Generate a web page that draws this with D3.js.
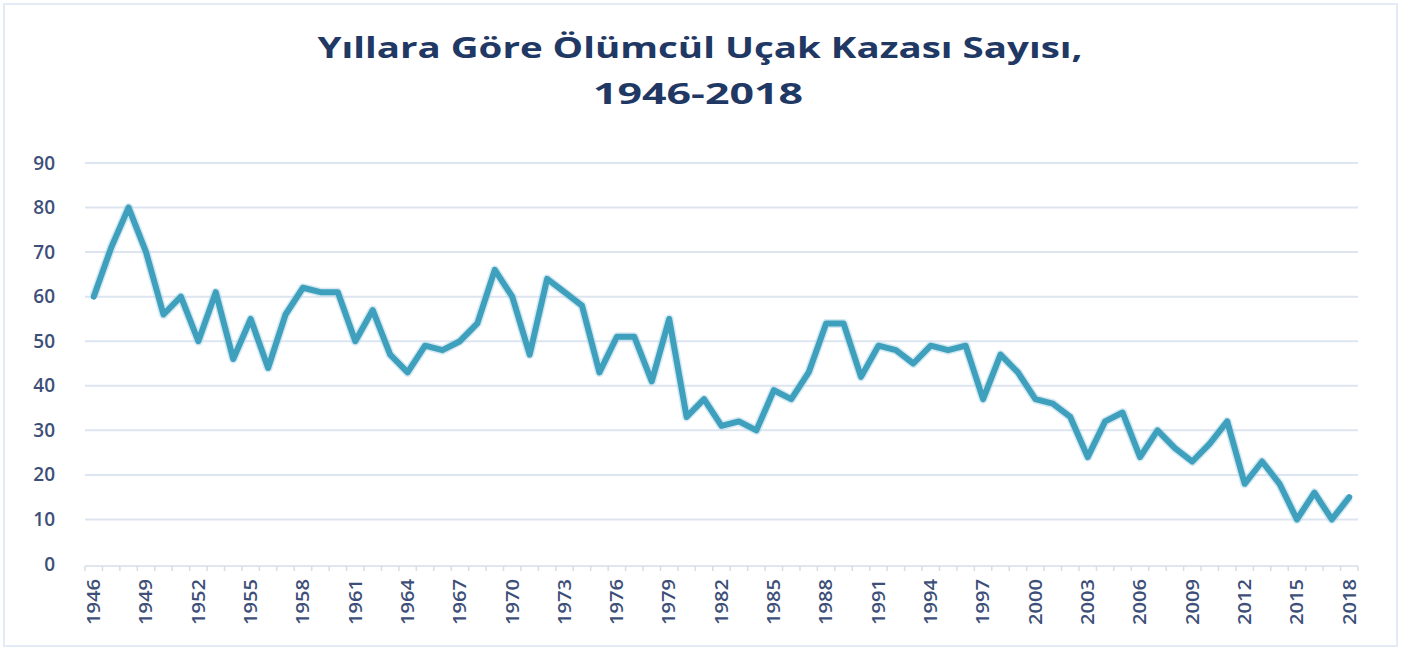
<!DOCTYPE html>
<html>
<head>
<meta charset="utf-8">
<script src="https://cdn.jsdelivr.net/npm/d3@7"></script>
<style>
  html, body { margin: 0; padding: 0; background: #ffffff; }
  svg { display: block; }
</style>
</head>
<body>
<svg id="chart" width="1403" height="648"></svg>
<script>
const titleLines = ["Yıllara Göre Ölümcül Uçak Kazası Sayısı,", "1946-2018"];
const years = d3.range(1946, 2019).map(String);
const accidents = [
  60, 71, 80, 70, 56, 60, 50, 61, 46, 55,
  44, 56, 62, 61, 61, 50, 57, 47, 43, 49,
  48, 50, 54, 66, 60, 47, 64, 61, 58, 43,
  51, 51, 41, 55, 33, 37, 31, 32, 30, 39,
  37, 43, 54, 54, 42, 49, 48, 45, 49, 48,
  49, 37, 47, 43, 37, 36, 33, 24, 32, 34,
  24, 30, 26, 23, 27, 32, 18, 23, 18, 10,
  16, 10, 15
];
const yTicks = [0, 10, 20, 30, 40, 50, 60, 70, 80, 90];
const xLabelYears = years.filter((d, i) => i % 3 === 0);

(function () {
const svg = d3.select("#chart");
const W = 1403, H = 648;

svg.append("rect")
  .attr("x", 4).attr("y", 4).attr("width", W - 10).attr("height", H - 6)
  .attr("fill", "#ffffff").attr("stroke", "#e3ebf6").attr("stroke-width", 2);

const pL = 85, pR = 1358, pT = 163, pB = 564;

const x = d3.scaleBand().domain(years).range([pL, pR]).padding(0);
const y = d3.scaleLinear().domain([0, 90]).range([pB, pT]);

const title = svg.append("g").attr("fill", "#1f3864")
  .style("font-family", "'Open Sans', 'Liberation Sans', sans-serif")
  .style("font-weight", "700");
title.append("text")
  .attr("x", 700).attr("y", 58).attr("text-anchor", "middle")
  .style("font-size", "29px")
  .attr("textLength", 765).attr("lengthAdjust", "spacingAndGlyphs")
  .text(titleLines[0]);
title.append("text")
  .attr("x", 698).attr("y", 104).attr("text-anchor", "middle")
  .style("font-size", "29px")
  .attr("textLength", 210).attr("lengthAdjust", "spacingAndGlyphs")
  .text(titleLines[1]);

svg.append("g").selectAll("line")
  .data(yTicks.filter(d => d > 0))
  .join("line")
  .attr("x1", pL).attr("x2", pR)
  .attr("y1", d => y(d)).attr("y2", d => y(d))
  .attr("stroke", "#dde5f1").attr("stroke-width", 2);

const yAxis = d3.axisLeft(y).tickValues(yTicks).tickSize(0).tickPadding(0);
const yg = svg.append("g").attr("transform", "translate(55,0)").call(yAxis);
yg.select(".domain").remove();
yg.selectAll("text")
  .attr("fill", "#3d4f78")
  .style("font-family", "'Open Sans', 'Liberation Sans', sans-serif")
  .style("font-size", "19px")
  .style("font-weight", "600");

const xg = svg.append("g");
xg.append("line")
  .attr("x1", pL).attr("x2", pR)
  .attr("y1", pB + 2).attr("y2", pB + 2)
  .attr("stroke", "#d6dde8").attr("stroke-width", 1.5);
xg.selectAll("line.tick")
  .data(years.concat(["end"]))
  .join("line").attr("class", "tick")
  .attr("x1", (d, i) => pL + i * x.bandwidth())
  .attr("x2", (d, i) => pL + i * x.bandwidth())
  .attr("y1", pB + 2).attr("y2", pB + 7)
  .attr("stroke", "#d6dde8").attr("stroke-width", 1.5);

const xAxis = d3.axisBottom(x).tickValues(xLabelYears).tickSize(0).tickPadding(0);
const xl = svg.append("g").attr("transform", `translate(0,${pB})`).call(xAxis);
xl.select(".domain").remove();
xl.selectAll("text")
  .attr("fill", "#3d4f78")
  .style("font-family", "'Open Sans', 'Liberation Sans', sans-serif")
  .style("font-size", "18px")
  .style("font-weight", "600")
  .attr("text-anchor", "end")
  .attr("dy", "0.35em")
  .attr("textLength", 46).attr("lengthAdjust", "spacingAndGlyphs")
  .attr("transform", "translate(0,15) rotate(-90)")
  .attr("x", 0).attr("y", 0);

const line = d3.line()
  .x((d, i) => x(years[i]) + x.bandwidth() / 2)
  .y(d => y(d));

svg.append("path")
  .datum(accidents)
  .attr("d", line)
  .attr("fill", "none")
  .attr("stroke", "#a9d4e3")
  .attr("stroke-width", 9)
  .attr("stroke-linejoin", "round")
  .attr("opacity", 0.5);

svg.append("path")
  .datum(accidents)
  .attr("d", line)
  .attr("fill", "none")
  .attr("stroke", "#3fa0bd")
  .attr("stroke-width", 6)
  .attr("stroke-linejoin", "round")
  .attr("stroke-linecap", "round");
})();
</script>
</body>
</html>
